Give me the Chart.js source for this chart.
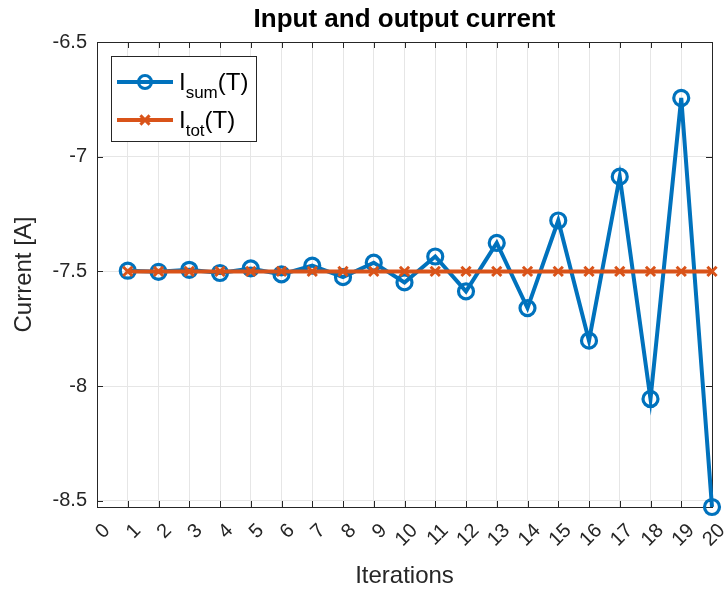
<!DOCTYPE html>
<html>
<head>
<meta charset="utf-8">
<title>Input and output current</title>
<script src="https://cdn.jsdelivr.net/npm/chart.js@4/dist/chart.umd.min.js"></script>
<style>
  html, body { margin: 0; padding: 0; background: #fff; }
  #wrap { width: 724px; height: 591px; position: relative; }
</style>
</head>
<body>
<div id="wrap"><canvas id="currentChart"></canvas></div>
<script>
/* Input vs output current per iteration */

const iterations = [1, 2, 3, 4, 5, 6, 7, 8, 9, 10, 11, 12, 13, 14, 15, 16, 17, 18, 19, 20];
const iSum = [-7.497, -7.502, -7.493, -7.507, -7.487, -7.513, -7.475, -7.525, -7.462, -7.548,
              -7.435, -7.587, -7.376, -7.660, -7.278, -7.802, -7.087, -8.056, -6.744, -8.527];
const iTot = [-7.5, -7.5, -7.5, -7.5, -7.5, -7.5, -7.5, -7.5, -7.5, -7.5,
              -7.5, -7.5, -7.5, -7.5, -7.5, -7.5, -7.5, -7.5, -7.5, -7.5];

const xTickValues = [0, 1, 2, 3, 4, 5, 6, 7, 8, 9, 10, 11, 12, 13, 14, 15, 16, 17, 18, 19, 20];
const yTickValues = [-8.5, -8, -7.5, -7, -6.5];
const yRange = [-8.527, -6.5];

const chartTitle = 'Input and output current';

// legend entries: main letter, subscript, suffix
const legendItems = [
  { main: 'I', sub: 'sum', tail: '(T)', color: '#0072BD', marker: 'circle' },
  { main: 'I', sub: 'tot', tail: '(T)', color: '#D95319', marker: 'cross' }
];

const AXIS_COLOR = '#262626';
const FONT = "'Liberation Sans', Arial, Helvetica, sans-serif";

const toPoints = ys => ys.map((y, i) => ({ x: iterations[i], y }));

// axes box + inward tick marks, drawn under the lines; title centred over the plot
const axesBox = {
  id: 'axesBox',
  beforeDatasetsDraw(chart) {
    const { ctx, chartArea: a, scales } = chart;
    const len = 6;
    ctx.save();
    ctx.strokeStyle = AXIS_COLOR;
    ctx.lineWidth = 1;
    ctx.beginPath();
    scales.x.ticks.forEach(t => {
      const px = Math.round(scales.x.getPixelForValue(t.value)) + 0.5;
      ctx.moveTo(px, a.bottom); ctx.lineTo(px, a.bottom - len);
      ctx.moveTo(px, a.top); ctx.lineTo(px, a.top + len);
    });
    scales.y.ticks.forEach(t => {
      const py = Math.round(scales.y.getPixelForValue(t.value)) + 0.5;
      ctx.moveTo(a.left, py); ctx.lineTo(a.left + len, py);
      ctx.moveTo(a.right, py); ctx.lineTo(a.right - len, py);
    });
    ctx.stroke();
    ctx.strokeRect(Math.round(a.left) + 0.5, Math.round(a.top) + 0.5,
                   Math.round(a.right - a.left), Math.round(a.bottom - a.top));

    ctx.fillStyle = '#000';
    ctx.font = 'bold 26px ' + FONT;
    ctx.textAlign = 'center';
    ctx.textBaseline = 'middle';
    ctx.fillText(chartTitle, (a.left + a.right) / 2, 20);
    ctx.restore();
  }
};

// legend with subscripted labels
const subLegend = {
  id: 'subLegend',
  afterDatasetsDraw(chart) {
    const { ctx } = chart;
    const box = { x: 111.5, y: 56.5, w: 145, h: 85 };
    const rows = [82, 120];
    ctx.save();
    ctx.fillStyle = '#fff';
    ctx.fillRect(box.x, box.y, box.w, box.h);
    ctx.strokeStyle = AXIS_COLOR;
    ctx.lineWidth = 1;
    ctx.strokeRect(box.x, box.y, box.w, box.h);

    legendItems.forEach((it, i) => {
      const y = rows[i];
      ctx.strokeStyle = it.color;
      ctx.lineWidth = 4;
      ctx.beginPath();
      ctx.moveTo(117, y); ctx.lineTo(173, y);
      ctx.stroke();
      ctx.lineWidth = 3;
      ctx.beginPath();
      if (it.marker === 'circle') {
        ctx.arc(145, y, 6.5, 0, Math.PI * 2);
      } else {
        const d = 4.6;
        ctx.moveTo(145 - d, y - d); ctx.lineTo(145 + d, y + d);
        ctx.moveTo(145 - d, y + d); ctx.lineTo(145 + d, y - d);
      }
      ctx.stroke();

      ctx.fillStyle = '#000';
      ctx.textBaseline = 'alphabetic';
      ctx.textAlign = 'left';
      let x = 179;
      const base = y + 3;
      ctx.font = '24px ' + FONT;
      ctx.fillText(it.main, x, base + 5);
      x += ctx.measureText(it.main).width;
      ctx.font = '17px ' + FONT;
      ctx.fillText(it.sub, x, base + 13);
      x += ctx.measureText(it.sub).width;
      ctx.font = '24px ' + FONT;
      ctx.fillText(it.tail, x, base + 5);
    });
    ctx.restore();
  }
};

const chart = new Chart(document.getElementById('currentChart'), {
  type: 'line',
  data: {
    datasets: [
      {
        label: 'I_tot(T)',
        data: toPoints(iTot),
        borderColor: '#D95319',
        backgroundColor: '#D95319',
        borderWidth: 4,
        pointStyle: 'crossRot',
        pointRadius: 6.5,
        pointBorderWidth: 3,
        pointBorderColor: '#D95319',
        clip: false
      },
      {
        label: 'I_sum(T)',
        data: toPoints(iSum),
        borderColor: '#0072BD',
        backgroundColor: 'rgba(0,0,0,0)',
        borderWidth: 4,
        pointStyle: 'circle',
        pointRadius: 7.5,
        pointBorderWidth: 3.2,
        pointBorderColor: '#0072BD',
        pointBackgroundColor: 'rgba(0,0,0,0)',
        clip: false
      }
    ]
  },
  options: {
    responsive: true,
    maintainAspectRatio: false,
    animation: false,
    layout: { padding: { left: 0, right: 12, top: 42, bottom: 0 } },
    plugins: {
      legend: { display: false },
      tooltip: { enabled: false },
      title: { display: false }
    },
    scales: {
      x: {
        type: 'linear',
        min: 0,
        max: 20,
        afterBuildTicks: s => { s.ticks = xTickValues.map(v => ({ value: v })); },
        afterFit: s => { s.height = 84; s.paddingLeft = 0; s.paddingRight = 0; },
        grid: { color: '#e6e6e6', lineWidth: 1, drawTicks: false },
        border: { display: false },
        ticks: {
          autoSkip: false,
          minRotation: 45,
          maxRotation: 45,
          padding: 12,
          labelOffset: 10,
          color: AXIS_COLOR,
          font: { family: FONT, size: 20 },
          callback: v => String(v)
        },
        title: {
          display: true,
          text: 'Iterations',
          color: AXIS_COLOR,
          font: { family: FONT, size: 24 },
          padding: { top: 0, bottom: 0 }
        }
      },
      y: {
        min: yRange[0],
        max: yRange[1],
        afterBuildTicks: s => { s.ticks = yTickValues.map(v => ({ value: v })); },
        afterFit: s => { s.width = 97; s.paddingTop = 0; s.paddingBottom = 0; },
        grid: { color: '#e6e6e6', lineWidth: 1, drawTicks: false },
        border: { display: false },
        ticks: {
          padding: 10,
          color: AXIS_COLOR,
          font: { family: FONT, size: 20 },
          callback: v => String(v)
        },
        title: {
          display: true,
          text: 'Current [A]',
          color: AXIS_COLOR,
          font: { family: FONT, size: 24 },
          padding: { top: 10, bottom: 0 }
        }
      }
    }
  },
  plugins: [axesBox, subLegend]
});
</script>
</body>
</html>
